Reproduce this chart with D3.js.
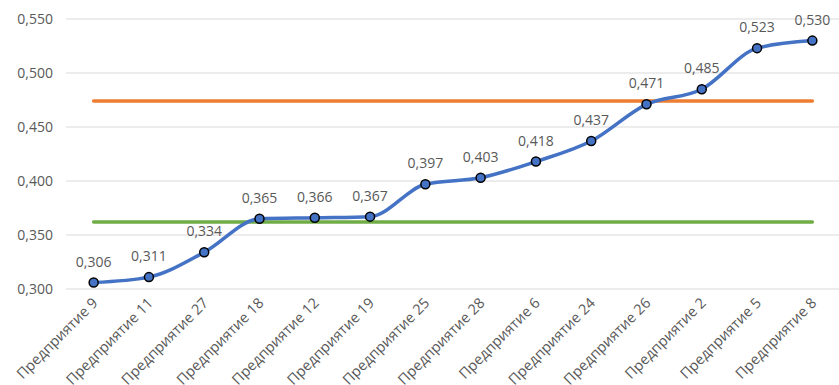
<!DOCTYPE html>
<html>
<head>
<meta charset="utf-8">
<script src="https://cdn.jsdelivr.net/npm/d3@7"></script>
<style>
  body { margin: 0; background: #fff; }
  svg text { font-family: "Open Sans", "Noto Sans", sans-serif; fill: #595959; }
</style>
</head>
<body>
<svg id="svg" width="839" height="385"></svg>
<script>
// данные
var categories = ["Предприятие 9", "Предприятие 11", "Предприятие 27", "Предприятие 18",
  "Предприятие 12", "Предприятие 19", "Предприятие 25", "Предприятие 28", "Предприятие 6",
  "Предприятие 24", "Предприятие 26", "Предприятие 2", "Предприятие 5", "Предприятие 8"]
var values = [0.306, 0.311, 0.334, 0.365, 0.366, 0.367, 0.397, 0.403, 0.418, 0.437, 0.471, 0.485, 0.523, 0.530]
var upperLevel = [0.474]
var lowerLevel = [0.362]
var yTicks = [0.300, 0.350, 0.400, 0.450, 0.500, 0.550]

var svg = d3.select("svg")
var plotL = 66, plotR = 840, plotT = 19, plotB = 289

var ru = d3.formatLocale({ decimal: ",", thousands: " ", grouping: [3], currency: ["", ""] })
var fmt = ru.format(".3f")

var x = d3.scaleBand().domain(categories).range([plotL, plotR])
var y = d3.scaleLinear().domain([0.300, 0.550]).range([plotB, plotT])
var cx = function(d) { return x(d) + x.bandwidth() / 2 }

// сетка
svg.append("g").selectAll("line")
  .data(yTicks).enter().append("line")
  .attr("x1", plotL).attr("x2", plotR)
  .attr("y1", function(d) { return y(d) }).attr("y2", function(d) { return y(d) })
  .attr("stroke", "#d9d9d9").attr("stroke-width", 1)

// ось Y
svg.append("g").selectAll("text")
  .data(yTicks).enter().append("text")
  .attr("x", 53).attr("y", function(d) { return y(d) })
  .attr("dy", "0.35em").attr("text-anchor", "end")
  .style("font-size", "14px")
  .text(function(d) { return fmt(d) })

// ось X
svg.append("g").selectAll("text")
  .data(categories).enter().append("text")
  .attr("transform", function(d) { return "translate(" + (cx(d) + 5) + "," + 304 + ") rotate(-45)" })
  .attr("text-anchor", "end")
  .style("font-size", "14.5px")
  .text(function(d) { return d })

// горизонтальные уровни
var x0 = cx(categories[0]), x1 = cx(categories[categories.length - 1])
svg.append("line")
  .attr("x1", x0).attr("x2", x1)
  .attr("y1", y(upperLevel[0])).attr("y2", y(upperLevel[0]))
  .attr("stroke", "#ED7D31").attr("stroke-width", 3.5).attr("stroke-linecap", "round")
svg.append("line")
  .attr("x1", x0).attr("x2", x1)
  .attr("y1", y(lowerLevel[0])).attr("y2", y(lowerLevel[0]))
  .attr("stroke", "#70AD47").attr("stroke-width", 3.5).attr("stroke-linecap", "round")

// линия
var line = d3.line()
  .x(function(d, i) { return cx(categories[i]) })
  .y(function(d) { return y(d) })
  .curve(d3.curveMonotoneX)

svg.append("path")
  .datum(values)
  .attr("d", line)
  .attr("fill", "none")
  .attr("stroke", "#4472C4").attr("stroke-width", 3.5).attr("stroke-linecap", "round")

// маркеры
svg.append("g").selectAll("circle")
  .data(values).enter().append("circle")
  .attr("cx", function(d, i) { return cx(categories[i]) })
  .attr("cy", function(d) { return y(d) })
  .attr("r", 4.5)
  .attr("fill", "#4472C4").attr("stroke", "#000").attr("stroke-width", 1.5)

// подписи
svg.append("g").selectAll("text")
  .data(values).enter().append("text")
  .attr("x", function(d, i) { return cx(categories[i]) })
  .attr("y", function(d) { return y(d) - 16 })
  .attr("text-anchor", "middle")
  .style("font-size", "14px")
  .text(function(d) { return fmt(d) })
</script>
</body>
</html>
